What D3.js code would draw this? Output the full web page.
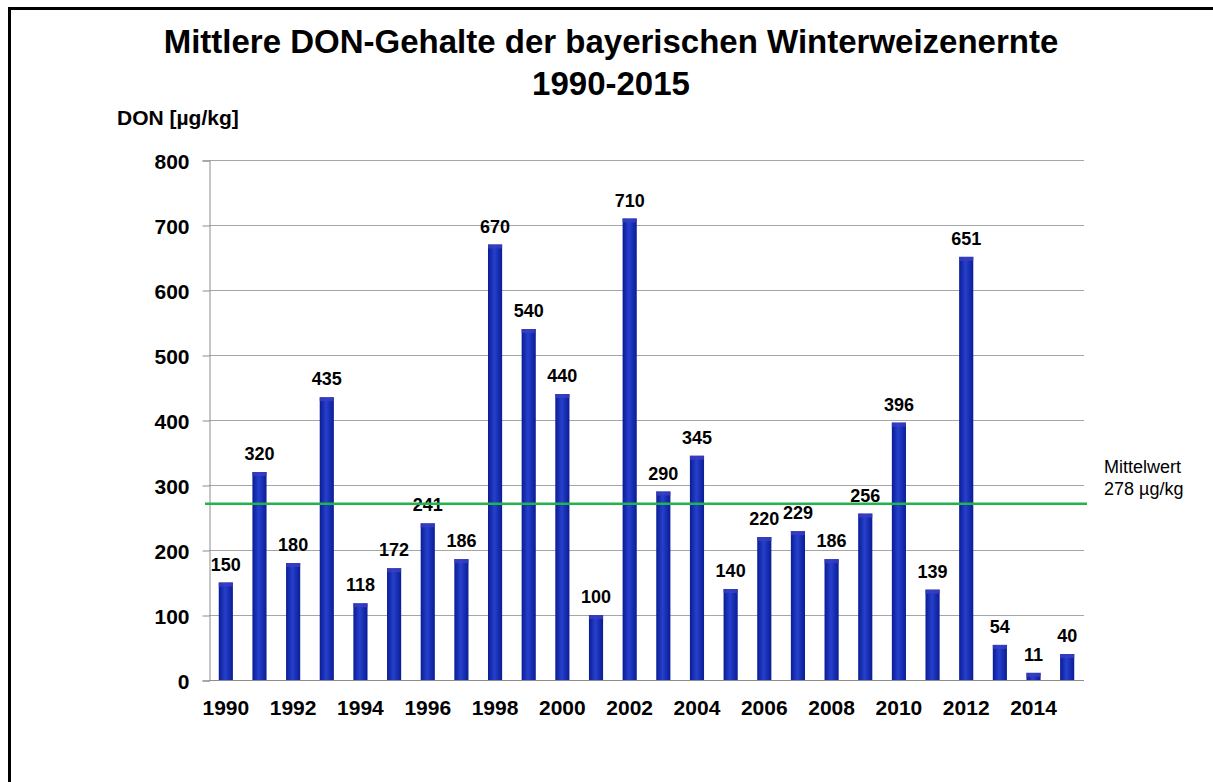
<!DOCTYPE html>
<html><head><meta charset="utf-8">
<script src="https://cdn.jsdelivr.net/npm/d3@7"></script>
<style>body{margin:0;background:#fff;overflow:hidden;}svg{display:block;font-family:Arial,"Liberation Sans",sans-serif;}</style>
</head><body>
<svg id="c" width="1213" height="782"></svg>
<script>
const years = [1990,1991,1992,1993,1994,1995,1996,1997,1998,1999,2000,2001,2002,2003,2004,2005,2006,2007,2008,2009,2010,2011,2012,2013,2014,2015];
const don = [150,320,180,435,118,172,241,186,670,540,440,100,710,290,345,140,220,229,186,256,396,139,651,54,11,40];
const yTicks = [0,100,200,300,400,500,600,700,800];
const xTickYears = [1990,1992,1994,1996,1998,2000,2002,2004,2006,2008,2010,2012,2014];
const meanLineValue = 271;
const meanLabel = ["Mittelwert","278 µg/kg"];
const titleLines = ["Mittlere DON-Gehalte der bayerischen Winterweizenernte","1990-2015"];
const yLabel = "DON [µg/kg]";

const svg = d3.select("#c");
const m = {left:209, right:1084, top:160, bottom:680};

// frame (top and left edges visible)
svg.append("path").attr("d","M9.5,782 L9.5,8.5 L1213,8.5")
  .attr("fill","none").attr("stroke","#000").attr("stroke-width",3);

const defs = svg.append("defs");
const g = defs.append("linearGradient").attr("id","barg").attr("x1","0").attr("x2","1").attr("y1","0").attr("y2","0");
g.append("stop").attr("offset","0%").attr("stop-color","#0a1c95");
g.append("stop").attr("offset","45%").attr("stop-color","#2640cc");
g.append("stop").attr("offset","100%").attr("stop-color","#0a1c95");

const x = d3.scaleBand().domain(years).range([m.left,m.right]).paddingInner(0.58).paddingOuter(0.29);
const y = d3.scaleLinear().domain([0,800]).range([m.bottom,m.top]);

// gridlines
svg.append("g").selectAll("line").data(yTicks.filter(d=>d>0)).join("line")
  .attr("x1",m.left).attr("x2",m.right).attr("y1",d=>y(d)+0.5).attr("y2",d=>y(d)+0.5)
  .attr("stroke","#a6a6a6").attr("stroke-width",1);

// y axis
const ya = svg.append("g").attr("transform",`translate(${m.left+0.5},0.5)`)
  .call(d3.axisLeft(y).tickValues(yTicks).tickSize(7).tickPadding(13));
ya.select(".domain").attr("stroke","#8c8c8c");
ya.selectAll(".tick line").attr("stroke","#8c8c8c");
ya.selectAll(".tick text").attr("font-size",21).attr("font-weight","bold").attr("fill","#000")
  .attr("font-family","Arial, 'Liberation Sans', sans-serif").attr("dy","0.36em");

// bars
svg.append("g").selectAll("rect").data(years).join("rect")
  .attr("x",d=>x(d)).attr("width",x.bandwidth())
  .attr("y",(d,i)=>y(don[i])).attr("height",(d,i)=>y(0)-y(don[i]))
  .attr("fill","url(#barg)");
// top caps
svg.append("g").selectAll("rect").data(years).join("rect")
  .attr("x",d=>x(d)).attr("width",x.bandwidth())
  .attr("y",(d,i)=>y(don[i])).attr("height",(d,i)=>Math.min(4,y(0)-y(don[i])))
  .attr("fill","#3b3fc0").attr("opacity",0.8);

// x axis line
svg.append("line").attr("x1",m.left).attr("x2",m.right).attr("y1",y(0)+0.5).attr("y2",y(0)+0.5)
  .attr("stroke","#8c8c8c");

// x labels
svg.append("g").selectAll("text").data(xTickYears).join("text")
  .attr("x",d=>x(d)+x.bandwidth()/2).attr("y",715)
  .attr("text-anchor","middle").attr("font-size",21).attr("font-weight","bold").text(d=>d);

// value labels
svg.append("g").selectAll("text").data(years).join("text")
  .attr("x",d=>x(d)+x.bandwidth()/2).attr("y",(d,i)=>y(don[i])-12)
  .attr("text-anchor","middle").attr("font-size",18).attr("font-weight","bold").text((d,i)=>don[i]);

// mean line
svg.append("line").attr("x1",m.left-4).attr("x2",m.right+3)
  .attr("y1",y(meanLineValue)).attr("y2",y(meanLineValue))
  .attr("stroke","#22b34c").attr("stroke-width",2.5);
svg.append("g").selectAll("text").data(meanLabel).join("text")
  .attr("x",1104).attr("y",(d,i)=>473+i*22).attr("font-size",18).text(d=>d);

// title
svg.append("g").selectAll("text").data(titleLines).join("text")
  .attr("x",611).attr("y",(d,i)=>53+i*42).attr("text-anchor","middle")
  .attr("font-size",33).attr("font-weight","bold").text(d=>d);

svg.append("text").attr("x",117).attr("y",125).attr("font-size",21).attr("font-weight","bold").text(yLabel);
</script>
</body></html>
